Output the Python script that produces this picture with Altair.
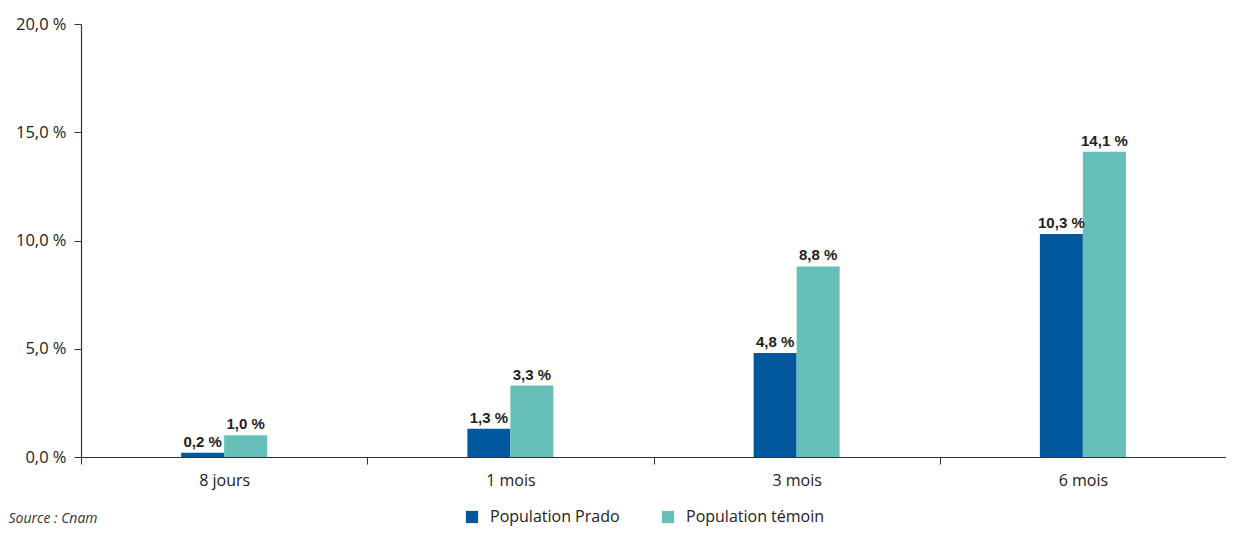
import altair as alt
import pandas as pd

categories = ["8 jours", "1 mois", "3 mois", "6 mois"]
series_names = ["Population Prado", "Population témoin"]
prado = [0.2, 1.3, 4.8, 10.3]
temoin = [1.0, 3.3, 8.8, 14.1]
colors = ["#02589C", "#67BFB9"]
source_text = "Source : Cnam"

rows = []
for c, p, t in zip(categories, prado, temoin):
    rows.append({"cat": c, "serie": series_names[0], "val": p})
    rows.append({"cat": c, "serie": series_names[1], "val": t})
df = pd.DataFrame(rows)
df["label"] = df["val"].map(lambda v: f"{v:.1f}".replace(".", ",") + " %")

FONT = "Open Sans"
LBLFONT = "Liberation Sans"
W = 1145
band = W / 4
bw = 43

x = alt.X("cat:N", sort=categories, title=source_text,
          scale=alt.Scale(paddingInner=0, paddingOuter=0),
          axis=alt.Axis(tickBand="extent", labelAngle=0, labelFont=FONT, labelFontSize=16,
                        labelColor="#222", tickSize=7, tickColor="#333", domainColor="#333",
                        labelPadding=8, domainWidth=1.2,
                        titleX=-73, titleY=65, titleAlign="left", titleAnchor="start",
                        titleBaseline="alphabetic", titleFont=FONT, titleFontSize=14,
                        titleFontStyle="italic", titleFontWeight="normal",
                        titleColor="#333"))
xo = alt.XOffset("serie:N", sort=series_names,
                 scale=alt.Scale(paddingInner=0, paddingOuter=0,
                                 range=[band / 2 - bw, band / 2 + bw]))
y = alt.Y("val:Q", title=None,
          scale=alt.Scale(domain=[0, 20], nice=False),
          axis=alt.Axis(values=[0, 5, 10, 15, 20], grid=False, tickSize=7,
                        labelExpr="replace(format(datum.value, '.1f'), '.', ',') + ' %'",
                        labelFont=FONT, labelFontSize=16.5, labelColor="#222",
                        tickColor="#333", domainColor="#333", labelPadding=8,
                        domainWidth=1.2))

bars = alt.Chart(df).mark_bar().encode(
    x=x, xOffset=xo, y=y,
    color=alt.Color("serie:N", sort=series_names,
                    scale=alt.Scale(domain=series_names, range=colors),
                    legend=alt.Legend(title=None, orient="none", direction="horizontal",
                                      legendX=383, legendY=485, symbolType="square",
                                      symbolSize=150, symbolStrokeWidth=0,
                                      labelFont=FONT, labelFontSize=16, labelColor="#222",
                                      columnPadding=40, labelOffset=10)),
)

text = alt.Chart(df).mark_text(dy=-11, fontWeight="bold", fontSize=15, font=LBLFONT,
                               color="#222").encode(
    x=alt.X("cat:N", sort=categories), xOffset=alt.XOffset("serie:N", sort=series_names),
    y="val:Q", text="label:N")

chart = alt.layer(bars, text).properties(
    width=W, height=433,
    autosize=alt.AutoSizeParams(type="none"),
    padding={"left": 73, "top": 16, "right": 0, "bottom": 69},
).configure_view(stroke=None)

chart.save("out.html", embed_options={"renderer": "svg", "actions": False})
